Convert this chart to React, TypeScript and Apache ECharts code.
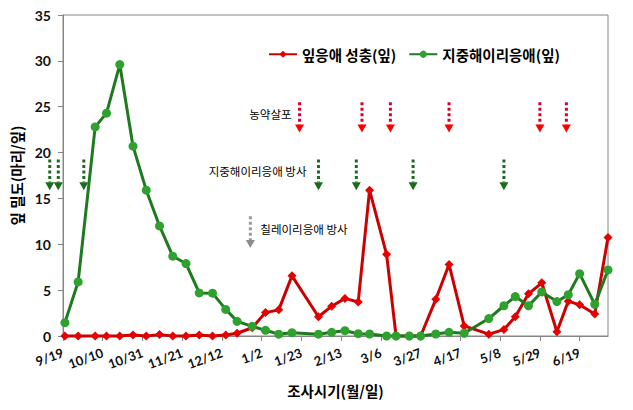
import React, { useEffect, useRef } from 'react';
import * as echarts from 'echarts';

// days since 9/19
const surveyDays = [1, 8, 17, 23, 30, 37, 44, 51, 58, 65, 72, 79, 86, 92, 100, 107, 114, 121, 135, 142, 149, 156, 162, 171, 176, 183, 189, 197, 204, 212, 225, 233, 239, 246, 253, 261, 267, 273, 281, 288];
const adultMites = [0, 0, 0, 0, 0, 0.1, 0, 0.15, 0, 0, 0.12, 0, 0.1, 0.3, 0.9, 2.55, 2.85, 6.56, 2.1, 3.25, 4.1, 3.7, 15.9, 8.9, 0, 0, 0, 4.0, 7.8, 1.1, 0.2, 0.7, 2.1, 4.6, 5.8, 0.47, 3.8, 3.4, 2.4, 10.75];
const predatoryMites = [1.45, 5.9, 22.8, 24.3, 29.6, 20.7, 15.9, 12.0, 8.7, 7.9, 4.7, 4.67, 2.9, 1.6, 1.05, 0.62, 0.2, 0.36, 0.2, 0.4, 0.58, 0.25, 0.22, 0, 0, 0, 0, 0.22, 0.4, 0.3, 1.9, 3.3, 4.3, 3.3, 4.8, 3.75, 4.5, 6.8, 3.45, 7.2];

const tickDays = [0, 21, 42, 63, 84, 105, 126, 147, 168, 189, 210, 231, 252, 273];
const tickLabels = ['9/19', '10/10', '10/31', '11/21', '12/12', '1/2', '1/23', '2/13', '3/6', '3/27', '4/17', '5/8', '5/29', '6/19'];

const pesticideDays = [125, 158, 173, 204, 252, 266];
const mediterraneanReleaseDays = [-7, -2.5, 11, 135, 155, 185, 233];
const chileanReleaseDays = [99];

const seriesNames = ['잎응애 성충(잎)', '지중해이리응애(잎)'];
const annotationTexts = ['농약살포', '지중해이리응애 방사', '칠레이리응애 방사'];

const FONT = 'Lato, "Noto Sans CJK KR", sans-serif';
const KFONT = '"Noto Sans CJK KR", sans-serif';

export default function App() {
  const ref = useRef<HTMLDivElement>(null);
  useEffect(() => {
    if (!ref.current) return;
    const chart = echarts.init(ref.current, null, { renderer: 'svg' });
    const option: any = {
      animation: false,
      backgroundColor: '#fff',
      grid: { left: 63, right: 25, top: 15, bottom: 74, show: true, borderColor: '#868686', borderWidth: 1, backgroundColor: 'transparent' },
      legend: {
        left: 263, top: 42, itemWidth: 28, itemHeight: 9, itemGap: 12,
        textStyle: { fontFamily: KFONT, fontSize: 14.5, fontWeight: 'bold', color: '#000' },
        data: seriesNames,
      },
      xAxis: {
        type: 'value', min: 0, max: 288, interval: 21,
        name: '조사시기(월/일)', nameLocation: 'middle', nameGap: 47,
        nameTextStyle: { fontFamily: KFONT, fontSize: 14.5, fontWeight: 'bold', color: '#000' },
        axisLine: { show: true, lineStyle: { color: '#868686', width: 1 } },
        axisTick: { show: true, length: 5, customValues: tickDays, lineStyle: { color: '#868686' } },
        axisLabel: {
          customValues: tickDays, rotate: 20, margin: 16, fontFamily: FONT, fontSize: 13, fontWeight: 'bold', color: '#111',
          formatter: (v: number) => { const i = tickDays.indexOf(v); return i >= 0 ? tickLabels[i] : ''; },
        },
        splitLine: { show: false },
      },
      yAxis: {
        type: 'value', min: 0, max: 35, interval: 5,
        name: '잎 밀도(마리/잎)', nameLocation: 'middle', nameGap: 38,
        nameTextStyle: { fontFamily: KFONT, fontSize: 14.5, fontWeight: 'bold', color: '#000' },
        axisLine: { show: true, lineStyle: { color: '#868686', width: 1 } },
        axisTick: { show: true, length: 5, lineStyle: { color: '#868686' } },
        axisLabel: { margin: 12, fontFamily: FONT, fontSize: 14, fontWeight: 'bold', color: '#111' },
        splitLine: { show: false },
      },
      series: [
        {
          name: seriesNames[0], type: 'line', clip: false,
          data: surveyDays.map((d, i) => [d, adultMites[i]]),
          symbol: 'diamond', symbolSize: 9,
          lineStyle: { color: '#cc0000', width: 3 },
          itemStyle: { color: '#e60000' },
        },
        {
          name: seriesNames[1], type: 'line', clip: false,
          data: surveyDays.map((d, i) => [d, predatoryMites[i]]),
          symbol: 'circle', symbolSize: 9,
          lineStyle: { color: '#1f7a1f', width: 3 },
          itemStyle: { color: '#2fa12f' },
        },
      ],
    };
    chart.setOption(option);

    const toPx = (d: number, v: number) => chart.convertToPixel({ gridIndex: 0 }, [d, v]) as number[];
    const arrow = (day: number, top: number, bottom: number, shaft: string, head: string) => {
      const [x, y1] = toPx(day, top);
      const [, y2] = toPx(day, bottom);
      const hh = 8;
      return [
        { type: 'line', silent: true, shape: { x1: x, y1, x2: x, y2: y2 - hh }, style: { stroke: shaft, lineWidth: 3, lineDash: [3, 2.5] } },
        { type: 'polygon', silent: true, shape: { points: [[x - 4.5, y2 - hh], [x + 4.5, y2 - hh], [x, y2]] }, style: { fill: head } },
      ];
    };
    const graphics: any[] = [];
    pesticideDays.forEach((d) => graphics.push(...arrow(d, 25.5, 22.2, '#d6002a', '#ff0000')));
    mediterraneanReleaseDays.forEach((d) => graphics.push(...arrow(d, 19.25, 15.9, '#1e6b1e', '#1a6b1a')));
    chileanReleaseDays.forEach((d) => graphics.push(...arrow(d, 13.05, 9.6, '#9a9a9a', '#8c8c8c')));

    const txt = (s: string, x: number, y: number, align: string) => ({
      type: 'text', silent: true, x, y,
      style: { text: s, fill: '#000', fontFamily: KFONT, fontSize: 11.5, align, verticalAlign: 'middle', textAlign: align, textVerticalAlign: 'middle' },
    });
    const [px0, py0] = toPx(pesticideDays[0], 24.2);
    graphics.push(txt(annotationTexts[0], px0 - 8, py0, 'right'));
    const [mx, my] = toPx(mediterraneanReleaseDays[3], 18.0);
    graphics.push(txt(annotationTexts[1], mx - 12, my, 'right'));
    const [cx, cy] = toPx(chileanReleaseDays[0], 11.7);
    graphics.push(txt(annotationTexts[2], cx + 10, cy, 'left'));

    chart.setOption({ graphic: graphics });
    return () => chart.dispose();
  }, []);
  return <div ref={ref} style={{ position: 'absolute', left: 0, top: 0, width: 633, height: 410 }} />;
}
